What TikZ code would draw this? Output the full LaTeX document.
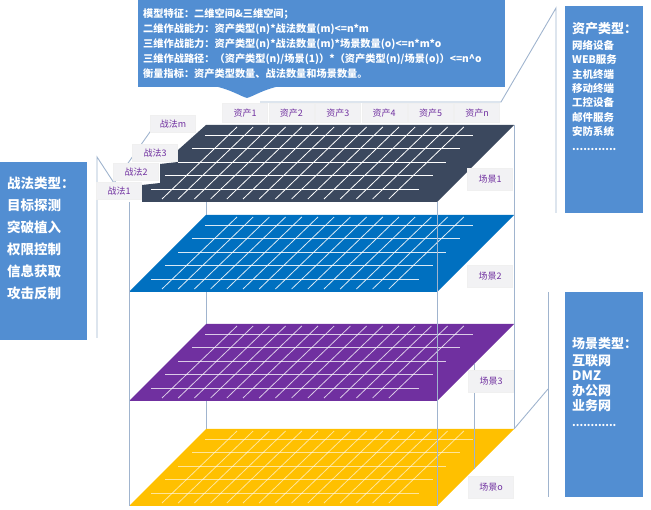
\documentclass[tikz,border=0pt]{standalone}
\usepackage{fontspec}
\setmainfont{Noto Sans CJK SC}
\usepackage{tikz}
\usetikzlibrary{positioning,calc}

\definecolor{slateplane}{RGB}{59,72,94}
\definecolor{blueplane}{RGB}{0,112,192}
\definecolor{purpleplane}{RGB}{112,48,160}
\definecolor{yellowplane}{RGB}{255,192,0}
\definecolor{calloutblue}{RGB}{82,142,210}
\definecolor{wiregray}{RGB}{160,180,206}
\definecolor{tagpurple}{RGB}{112,48,160}
\definecolor{tagfill}{RGB}{242,242,244}

\tikzset{
    tag/.style={
           rectangle,
           fill=tagfill,
           draw=gray!12,
           minimum width=45pt,
           minimum height=19pt,
           inner sep=1pt,
           text=tagpurple,
           font=\fontsize{9}{9}\selectfont
           },
    wire/.style={
           draw=wiregray,
           line width=0.9pt
           },
    gridline/.style={
           draw=white,
           line width=0.8pt
           },
    infotext/.style={
           text=white,
           align=left,
           anchor=north west,
           inner sep=0pt,
           font=\bfseries\fontsize{10.2}{15.2}\selectfont
           }
}

% white grid on one plane: #1 top edge, #2 opacity
\newcommand{\planegrid}[2]{%
  \foreach \dy in {10,23,37,50,64}
     \draw[gridline, opacity=#2] (215-\dy,#1+\dy) -- ++(268,0);
  \foreach \i in {0,...,14}
     \draw[gridline, opacity=#2] (237+16.2*\i,#1+2) -- ++(-75,72);
}

\begin{document}
\begin{tikzpicture}[x=1pt, y=-1pt, node distance=46.4pt, on grid]
   \useasboundingbox (0,0) rectangle (651,510);

   % corners of the four planes
   \foreach \t/\n in {125/1, 215/2, 324/3, 429/o} {
      \coordinate (p\n-tl) at (206,\t);
      \coordinate (p\n-tr) at (514,\t);
      \coordinate (p\n-br) at (437,\t+77);
      \coordinate (p\n-bl) at (129,\t+77);
   }

   % back edge, hidden by the planes
   \draw[wire] (p1-tl |- p1-bl) -- (po-tl);

   % planes
   \fill[slateplane] (p1-tl) -- (p1-tr) -- (p1-br) -- (142,202) -- (142,185)
        -- (160,183) -- (160,164) -- (178,162) -- (178,150) -- cycle;
   \planegrid{125}{1}
   \foreach \n/\t/\c/\o in {2/215/blueplane/0.85, 3/324/purpleplane/0.75, o/429/yellowplane/0.6} {
      \fill[\c] (p\n-tl) -- (p\n-tr) -- (p\n-br) -- (p\n-bl) -- cycle;
      \planegrid{\t}{\o}
   }

   % front edges
   \draw[wire] (p1-bl) -- (po-bl);
   \draw[wire] (p1-br) -- (po-br);
   \draw[wire] (p1-tr) -- (po-tr);
   \coordinate (mid3) at ($(p3-tr)!0.52!(p3-br)$);
   \draw[wire] (mid3) -- ++(0,105);

   % brackets to the type boxes
   \coordinate (tb-bot) at (97,338);
   \coordinate (tb-top) at (97,157);
   \coordinate (tb-v) at (114,183);
   \coordinate (tb-end) at (157,122);
   \draw[wire] (tb-bot) -- (tb-top) -- (tb-v) -- (tb-end);
   \coordinate (ab-bot) at (556,213);
   \coordinate (ab-top) at (556,8);
   \coordinate (ab-knee) at (501,102);
   \coordinate (ab-end) at (260,102);
   \draw[wire] (ab-bot) -- (ab-top) -- (ab-knee) -- (ab-end);
   \coordinate (sb-top) at (548,292);
   \coordinate (sb-bot) at (548,497);
   \coordinate (sb-knee) at (548,389);
   \draw[wire] (sb-top) -- (sb-bot);
   \draw[wire] (sb-knee) -- (po-tr);

   % model box
   \fill[calloutblue] (138,-3) rectangle (505,87);
   \fill[calloutblue] (214,86) .. controls (232,90) and (240,96) .. (247,98)
        .. controls (254,96) and (262,90) .. (280,86) -- cycle;
   \node[infotext] (model) at (143,8) {模型特征：二维空间\&三维空间；\\
        二维作战能力：资产类型(n)*战法数量(m)<=n*m\\
        三维作战能力：资产类型(n)*战法数量(m)*场景数量(o)<=n*m*o\\
        三维作战路径：（资产类型(n)/场景(1)）*（资产类型(n)/场景(o)）<=n\textasciicircum o\\
        衡量指标：资产类型数量、战法数量和场景数量。};

   % type boxes
   \fill[calloutblue] (0,162) rectangle (87,340);
   \node[infotext, font=\bfseries\fontsize{13.5}{22}\selectfont] (tactype) at (7,177)
        {战法类型：\\目标探测\\突破植入\\权限控制\\信息获取\\攻击反制};
   \fill[calloutblue] (565,6) rectangle (643,213);
   \node[infotext, font=\bfseries\fontsize{10.5}{14.3}\selectfont] (assettype) at (572,22)
        {{\fontsize{13}{14}\selectfont 资产类型：}\\[2pt]网络设备\\WEB服务\\主机终端\\移动终端\\工控设备\\邮件服务\\安防系统\\[1pt]............};
   \fill[calloutblue] (565,292) rectangle (643,497);
   \node[infotext, font=\bfseries\fontsize{13}{15}\selectfont] (scenetype) at (572,337)
        {场景类型：\\[2pt]互联网\\DMZ\\办公网\\业务网\\[1pt]{\fontsize{10.5}{12}\selectfont ............}};

   % tactic tags
   \node[tag, minimum height=17pt] (tac1) at (119,191) {战法1};
   \node[tag, minimum height=17pt] (tac2) [above right=19pt and 17pt of tac1] {战法2};
   \node[tag, minimum height=17pt] (tac3) [above right=19pt and 19pt of tac2] {战法3};
   \node[tag, minimum height=17pt] (tacm) [above right=29pt and 18pt of tac3] {战法m};

   % asset tags
   \node[tag] (ast1) at (245,113) {资产1};
   \node[tag] (ast2) [right=of ast1] {资产2};
   \node[tag] (ast3) [right=of ast2] {资产3};
   \node[tag] (ast4) [right=of ast3] {资产4};
   \node[tag] (ast5) [right=of ast4] {资产5};
   \node[tag] (ast6) [right=of ast5] {资产n};

   % scene tags
   \node[tag, minimum height=22pt] (sc1) at (490,179) {场景1};
   \node[tag, minimum height=22pt] (sc2) at (490,276) {场景2};
   \node[tag, minimum height=22pt] (sc3) at (491,381) {场景3};
   \node[tag, minimum height=22pt] (sco) at (491,487) {场景o};
\end{tikzpicture}
\end{document}
